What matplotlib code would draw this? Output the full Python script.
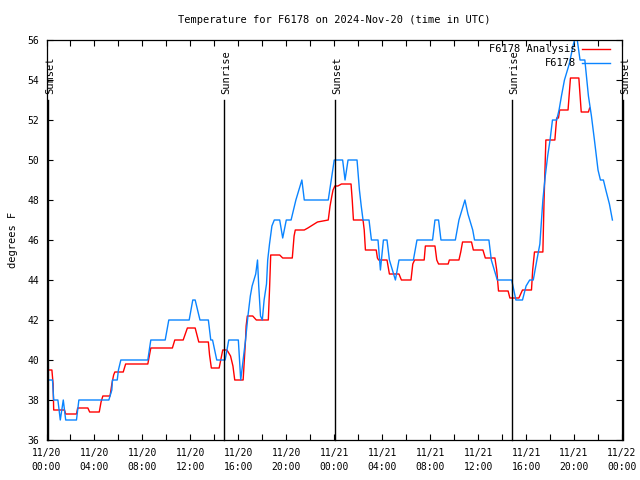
import matplotlib
matplotlib.use("Agg")
import matplotlib.pyplot as plt
from matplotlib.ticker import MultipleLocator

# hours since 2024-11-20 00:00 UTC
obs_hours = [0.0, 0.1, 0.5, 0.6, 0.95, 1.15, 1.4, 1.6, 2.5, 2.7, 5.2, 5.45, 5.5, 5.9, 6.0, 6.2,
             8.45, 8.7, 9.9, 10.2, 11.9, 12.2, 12.4, 12.8, 13.5, 13.7, 13.85, 14.2, 14.9, 15.2,
             16.0, 16.2, 16.6, 16.8, 17.0, 17.15, 17.3, 17.45, 17.6, 17.7, 17.85, 18.0, 18.15,
             18.35, 18.45, 18.6, 18.8, 19.0, 19.45, 19.7, 20.0, 20.4, 20.8, 21.3, 21.5, 23.5,
             24.0, 24.7, 24.9, 25.15, 25.9, 26.1, 26.25, 26.4, 26.9, 27.1, 27.65, 27.85, 28.1,
             28.4, 28.6, 28.85, 29.1, 29.4, 30.6, 30.9, 32.2, 32.4, 32.7, 32.9, 34.1, 34.4,
             34.65, 34.9, 35.15, 35.3, 35.55, 35.7, 36.9, 37.1, 37.35, 37.6, 38.8, 39.15, 39.7,
             40.0, 40.3, 40.6, 40.9, 41.15, 41.4, 41.6, 41.8, 42.0, 42.2, 42.55, 42.75, 42.95,
             43.2, 43.6, 43.95, 44.2, 44.5, 44.9, 45.2, 45.45, 45.7, 46.0, 46.2, 46.45, 46.65,
             46.95, 47.2]
obs_temp = [39.6, 39.0, 39.0, 38.0, 38.0, 37.0, 38.0, 37.0, 37.0, 38.0, 38.0, 38.5, 39.0, 39.0, 39.5, 40.0,
            40.0, 41.0, 41.0, 42.0, 42.0, 43.0, 43.0, 42.0, 42.0, 41.0, 41.0, 40.0, 40.0, 41.0,
            41.0, 39.0, 41.0, 42.2, 43.2, 43.7, 44.0, 44.3, 45.0, 43.7, 42.2, 42.0, 43.0,
            43.8, 45.0, 45.8, 46.7, 47.0, 47.0, 46.1, 47.0, 47.0, 48.0, 49.0, 48.0, 48.0,
            50.0, 50.0, 49.0, 50.0, 50.0, 48.5, 47.7, 47.0, 47.0, 46.0, 46.0, 44.5, 46.0,
            46.0, 45.0, 44.5, 44.0, 45.0, 45.0, 46.0, 46.0, 47.0, 47.0, 46.0, 46.0, 47.0,
            47.5, 48.0, 47.3, 47.0, 46.5, 46.0, 46.0, 45.0, 44.5, 44.0, 44.0, 43.0, 43.0,
            43.7, 44.0, 44.0, 45.0, 45.8, 48.0, 49.2, 50.2, 51.0, 52.0, 52.0, 52.5, 53.2,
            54.0, 54.8, 55.8, 56.3, 55.0, 55.0, 53.2, 52.2, 51.0, 49.5, 49.0, 49.0, 48.5,
            47.8, 47.0]

ana_hours = [0.0, 0.45, 0.55, 0.6, 1.5, 1.6, 2.5, 2.6, 3.45, 3.6, 4.4, 4.55, 4.7, 5.3, 5.45, 5.6,
             5.7, 6.4, 6.6, 8.45, 8.7, 10.5, 10.7, 11.4, 11.75, 12.4, 12.7, 13.5, 13.6, 13.75,
             14.4, 14.7, 15.05, 15.35, 15.55, 15.7, 16.4, 16.5, 16.6, 16.65, 16.75, 17.2, 17.5,
             18.5, 18.6, 18.7, 19.45, 19.7, 20.5, 20.65, 20.75, 21.5, 21.8, 22.2, 22.6, 23.5,
             23.65, 23.8, 23.9, 24.05, 24.3, 24.6, 25.4, 25.5, 25.6, 26.4, 26.5, 26.6, 27.5,
             27.6, 27.7, 28.4, 28.6, 29.4, 29.6, 30.4, 30.55, 30.7, 31.5, 31.6, 32.4, 32.55,
             32.7, 33.5, 33.6, 34.4, 34.55, 34.7, 35.45, 35.6, 36.4, 36.6, 37.4, 37.55, 37.7,
             38.5, 38.65, 39.4, 39.7, 40.45, 40.55, 40.7, 41.4, 41.5, 41.65, 42.4, 42.55, 42.7,
             42.8, 43.5, 43.7, 44.4, 44.6, 45.2, 45.3]
ana_temp = [39.5, 39.5, 38.8, 37.5, 37.5, 37.3, 37.3, 37.6, 37.6, 37.4, 37.4, 37.9, 38.2, 38.2, 38.8, 39.25,
            39.4, 39.4, 39.8, 39.8, 40.6, 40.6, 41.0, 41.0, 41.6, 41.6, 40.9, 40.9, 40.25, 39.6,
            39.6, 40.5, 40.5, 40.2, 39.7, 39.0, 39.0, 40.0, 41.0, 41.7, 42.2, 42.2, 42.0,
            42.0, 43.5, 45.25, 45.25, 45.1, 45.1, 46.2, 46.5, 46.5, 46.6, 46.75, 46.9, 47.0,
            47.7, 48.2, 48.5, 48.7, 48.7, 48.8, 48.8, 48.0, 47.0, 47.0, 46.5, 45.5, 45.5,
            45.1, 45.0, 45.0, 44.3, 44.3, 44.0, 44.0, 44.8, 45.0, 45.0, 45.7, 45.7, 45.0,
            44.8, 44.8, 45.0, 45.0, 45.4, 45.9, 45.9, 45.5, 45.5, 45.1, 45.1, 44.5, 43.45,
            43.45, 43.1, 43.1, 43.5, 43.5, 44.5, 45.4, 45.4, 48.0, 51.0, 51.0, 52.1, 52.1,
            52.5, 52.5, 54.1, 54.1, 52.4, 52.4, 52.6]

event_hours = [0.1, 14.8, 24.06, 38.83, 48.05]
event_names = ["Sunset", "Sunrise", "Sunset", "Sunrise", "Sunset"]

tick_hours = [0, 4, 8, 12, 16, 20, 24, 28, 32, 36, 40, 44, 48]
tick_labels = ["11/20\n00:00", "11/20\n04:00", "11/20\n08:00", "11/20\n12:00", "11/20\n16:00",
               "11/20\n20:00", "11/21\n00:00", "11/21\n04:00", "11/21\n08:00", "11/21\n12:00",
               "11/21\n16:00", "11/21\n20:00", "11/22\n00:00"]

plt.rcParams['font.family'] = 'DejaVu Sans Mono'
plt.rcParams['font.size'] = 7

fig = plt.figure(figsize=(6.4, 4.8), dpi=100)
ax = fig.add_axes([46.5 / 640, 1 - 440 / 480, 575.5 / 640, 400 / 480])

ax.plot(ana_hours, ana_temp, color='#ff0000', lw=1.0)
ax.plot(obs_hours, obs_temp, color='#0a84ff', lw=1.0)

# sunrise / sunset markers
for h, name in zip(event_hours, event_names):
    ax.plot([h, h], [36, 53], color='black', lw=1.0, clip_on=False)
    ax.text(h + 0.2, 53.3, name, rotation=90, ha='center', va='bottom',
            fontsize=7.5, clip_on=False)

ax.set_xlim(0, 48)
ax.set_ylim(36, 56)
ax.set_xticks(tick_hours)
ax.set_xticklabels(tick_labels, linespacing=1.4)
ax.xaxis.set_minor_locator(MultipleLocator(2))
ax.set_yticks(range(36, 57, 2))
ax.tick_params(which='both', direction='in', top=True, right=True, length=4, width=0.8)
ax.tick_params(axis='x', pad=6)
ax.tick_params(axis='y', pad=5)
for s in ax.spines.values():
    s.set_linewidth(0.9)

ax.set_title("Temperature for F6178 on 2024-Nov-20 (time in UTC)", fontsize=7.5, pad=12)
ax.set_ylabel("degrees F", fontsize=7.5, labelpad=7)

# gnuplot style key: right aligned text, sample line to the right
key = [("F6178 Analysis", '#ff0000', 0.9775), ("F6178", '#0a84ff', 0.9425)]
for label, col, yk in key:
    ax.text(0.921, yk, label, transform=ax.transAxes, ha='right', va='center', fontsize=7.5)
    ax.plot([0.93, 0.979], [yk, yk], transform=ax.transAxes, color=col, lw=1.0)

fig.savefig("out.png", dpi=100)
